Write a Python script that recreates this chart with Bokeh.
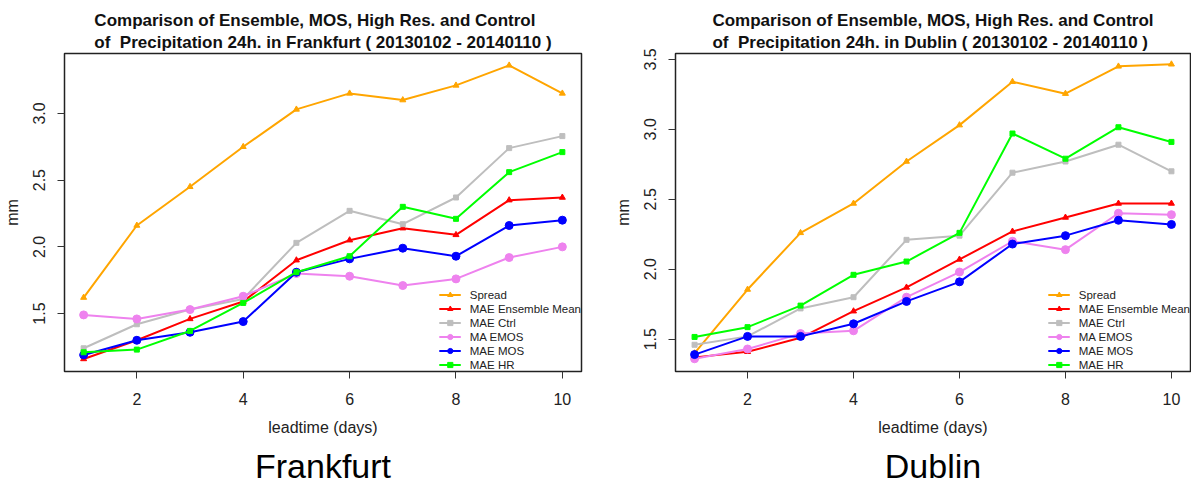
from bokeh.plotting import figure
from bokeh.layouts import row
from bokeh.models import FixedTicker, Title, Range1d, NumeralTickFormatter
from bokeh.embed import file_html
from bokeh.resources import INLINE

leadtime = [1, 2, 3, 4, 5, 6, 7, 8, 9, 10]
x_ticks = [2, 4, 6, 8, 10]
series_names = ["Spread", "MAE Ensemble Mean", "MAE Ctrl", "MA EMOS", "MAE MOS", "MAE HR"]

# Frankfurt
fra_spread = [1.62, 2.16, 2.45, 2.75, 3.03, 3.15, 3.10, 3.21, 3.36, 3.15]
fra_ens_mean = [1.16, 1.30, 1.46, 1.59, 1.90, 2.05, 2.14, 2.09, 2.35, 2.37]
fra_ctrl = [1.24, 1.42, 1.53, 1.61, 2.03, 2.27, 2.17, 2.37, 2.74, 2.83]
fra_emos = [1.49, 1.46, 1.53, 1.63, 1.80, 1.78, 1.71, 1.76, 1.92, 2.00]
fra_mos = [1.19, 1.30, 1.36, 1.44, 1.81, 1.91, 1.99, 1.93, 2.16, 2.20]
fra_hr = [1.21, 1.23, 1.37, 1.58, 1.81, 1.93, 2.30, 2.21, 2.56, 2.71]
fra_y_ticks = [1.5, 2.0, 2.5, 3.0]

# Dublin
dub_spread = [1.40, 1.855, 2.26, 2.47, 2.77, 3.03, 3.34, 3.255, 3.45, 3.465]
dub_ens_mean = [1.37, 1.41, 1.51, 1.70, 1.87, 2.07, 2.27, 2.37, 2.47, 2.47]
dub_ctrl = [1.46, 1.52, 1.72, 1.80, 2.21, 2.24, 2.69, 2.77, 2.89, 2.70]
dub_emos = [1.36, 1.43, 1.54, 1.56, 1.80, 1.98, 2.20, 2.14, 2.40, 2.39]
dub_mos = [1.39, 1.52, 1.52, 1.61, 1.77, 1.91, 2.18, 2.24, 2.35, 2.32]
dub_hr = [1.516, 1.586, 1.74, 1.96, 2.055, 2.26, 2.97, 2.79, 3.015, 2.91]
dub_y_ticks = [1.5, 2.0, 2.5, 3.0, 3.5]

styles = [
    dict(color="#FFA500", marker="triangle", size=6),
    dict(color="#FF0000", marker="triangle", size=6),
    dict(color="#BEBEBE", marker="square", size=5),
    dict(color="#EE82EE", marker="circle", size=8),
    dict(color="#0000FF", marker="circle", size=8),
    dict(color="#00FF00", marker="square", size=5),
]

FONT = "Liberation Sans"


def make_plot(city, series, y_ticks, y_range, width, bl, br):
    p = figure(width=width, height=490, output_backend="svg", toolbar_location=None,
               x_range=Range1d(0.64, 10.36), y_range=Range1d(*y_range),
               min_border_left=bl, min_border_right=br, min_border_top=53, min_border_bottom=112)
    p.title = None
    p.grid.visible = False
    p.outline_line_color = "#222222"
    p.outline_line_width = 1.5
    p.background_fill_color = "white"

    for name, ys, st in zip(series_names, series, styles):
        p.line(leadtime, ys, line_color=st["color"], line_width=2, legend_label=name)
        p.scatter(leadtime, ys, marker=st["marker"], size=st["size"], fill_color=st["color"],
                  line_color=st["color"], legend_label=name)

    for ax in (p.xaxis[0], p.yaxis[0]):
        ax.axis_line_color = None
        ax.major_tick_out = 7
        ax.major_tick_in = 0
        ax.minor_tick_line_color = None
        ax.major_tick_line_color = "#333333"
        ax.major_label_text_font = FONT
        ax.major_label_text_font_size = "16px"
        ax.major_label_text_color = "#222222"
        ax.axis_label_text_font = FONT
        ax.axis_label_text_font_size = "16px"
        ax.axis_label_text_font_style = "normal"
        ax.axis_label_text_color = "#222222"
    p.xaxis.ticker = FixedTicker(ticks=x_ticks)
    p.yaxis.ticker = FixedTicker(ticks=y_ticks)
    p.yaxis.formatter = NumeralTickFormatter(format="0.0")
    p.yaxis.major_label_orientation = "vertical"
    p.xaxis.axis_label = "leadtime (days)"
    p.yaxis.axis_label = "mm"
    p.xaxis.major_label_standoff = 14
    p.xaxis.axis_label_standoff = 11
    p.yaxis.major_label_standoff = 12
    p.yaxis.axis_label_standoff = 10

    leg = p.legend[0]
    leg.location = "bottom_right"
    leg.border_line_color = None
    leg.background_fill_alpha = 0
    leg.label_text_font = FONT
    leg.label_text_font_size = "11.5px"
    leg.label_text_color = "#222222"
    leg.glyph_width = 22
    leg.glyph_height = 13
    leg.label_height = 13
    leg.label_standoff = 9
    leg.spacing = 1
    leg.padding = 5
    leg.margin = 0

    title_text = ("Comparison of Ensemble, MOS, High Res. and Control\n"
                  "of\u00a0 Precipitation 24h. in %s ( 20130102 - 20140110 )" % city)
    t = Title(text=title_text, align="center", text_font=FONT, text_font_size="17px",
              text_font_style="bold", text_color="#111111", standoff=3, text_line_height=1.15)
    p.add_layout(t, "above")
    tc = Title(text=city, align="center", text_font=FONT, text_font_size="34px",
               text_font_style="normal", text_color="black", standoff=12)
    p.add_layout(tc, "below")
    return p


p1 = make_plot("Frankfurt", [fra_spread, fra_ens_mean, fra_ctrl, fra_emos, fra_mos, fra_hr],
               fra_y_ticks, (1.066, 3.449), 600, 64, 19)
p2 = make_plot("Dublin", [dub_spread, dub_ens_mean, dub_ctrl, dub_emos, dub_mos, dub_hr],
               dub_y_ticks, (1.269, 3.542), 591, 75, 1)

layout = row(p1, p2)
open("out.html", "w").write(file_html(layout, INLINE))
